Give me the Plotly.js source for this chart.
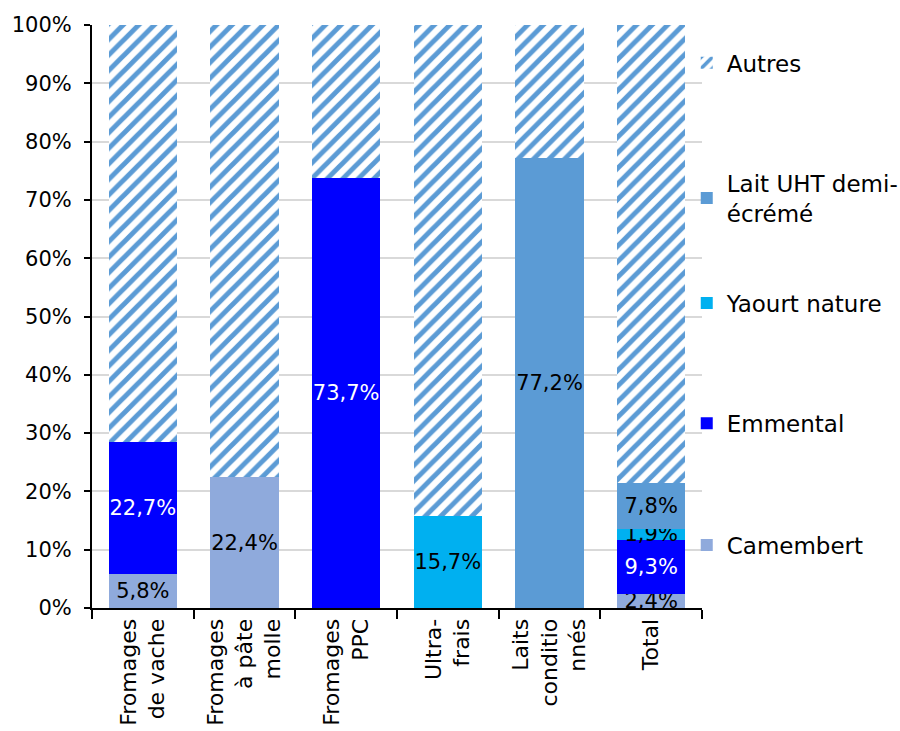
<!DOCTYPE html>
<html>
<head>
<meta charset="utf-8">
<script src="https://cdn.plot.ly/plotly-3.0.1.min.js"></script>
<style>html,body{margin:0;padding:0;background:#fff;}#chart{width:900px;height:731px;}</style>
</head>
<body>
<div id="chart"></div>
<script>
const categories = ["Fromages<br>de vache", "Fromages<br>à pâte<br>molle", "Fromages<br>PPC", "Ultra-<br>frais", "Laits<br>conditio<br>nnés", "Total"];
const camembert = [5.8, 22.4, null, null, null, 2.4];
const emmental = [22.7, null, 73.7, null, null, 9.3];
const yaourt = [null, null, null, 15.7, null, 1.9];
const laitUHT = [null, null, null, null, 77.2, 7.8];
const autres = [71.5, 77.6, 26.3, 84.3, 22.8, 78.6];

const seriesNames = ["Camembert", "Emmental", "Yaourt nature", "Lait UHT demi-<br>écrémé", "Autres"];
const seriesColors = ["#8FAADC", "#0000FF", "#00B0F0", "#5B9BD5", "#5B9BD5"];
const labelColors = ["#000000", "#FFFFFF", "#000000", "#000000", "#000000"];
const legendIds = ["legend5", "legend4", "legend3", "legend2", "legend"];
const legendY = [0.108, 0.317, 0.523, 0.703, 0.935];

const fmt = v => (v == null ? "" : v.toFixed(1).replace(".", ",") + "%");
const FONT = "'DejaVu Sans', Inter, sans-serif";

const allSeries = [camembert, emmental, yaourt, laitUHT];
const traces = allSeries.map((vals, i) => ({
  type: "bar",
  name: seriesNames[i],
  legend: legendIds[i],
  x: categories,
  y: vals.map(v => (v == null ? null : v / 100)),
  text: vals.map(fmt),
  textposition: "inside",
  insidetextanchor: "middle",
  textangle: 0,
  constraintext: "none",
  textfont: {family: FONT, size: 21, color: labelColors[i]},
  marker: {color: seriesColors[i], line: {width: 0}},
  hoverinfo: "skip"
}));
traces.push({
  type: "bar",
  name: seriesNames[4],
  legend: legendIds[4],
  x: categories,
  y: autres.map(v => v / 100),
  textposition: "none",
  marker: {
    color: "#FFFFFF",
    line: {width: 0},
    pattern: {shape: "/", fgcolor: "#5B9BD5", bgcolor: "#FFFFFF", size: 11, solidity: 0.45}
  },
  hoverinfo: "skip"
});

const layout = {
  width: 900,
  height: 731,
  barmode: "stack",
  bargap: 0.33,
  paper_bgcolor: "#FFFFFF",
  plot_bgcolor: "#FFFFFF",
  margin: {l: 92, r: 198, t: 25, b: 123, autoexpand: false},
  font: {family: FONT, size: 21, color: "#000000"},
  uniformtext: {mode: "show", minsize: 21},
  xaxis: {
    type: "category",
    tickangle: -90,
    ticks: "outside",
    tickson: "boundaries",
    ticklen: 9,
    tickcolor: "#000000",
    tickwidth: 2,
    showline: true,
    linecolor: "#000000",
    linewidth: 2,
    showgrid: false,
    tickfont: {family: FONT, size: 22, color: "#000000"}
  },
  yaxis: {
    range: [0, 1],
    dtick: 0.1,
    tickformat: ".0%",
    ticks: "outside",
    ticklen: 6,
    tickcolor: "#000000",
    tickwidth: 2,
    ticklabelstandoff: 8,
    showline: true,
    linecolor: "#000000",
    linewidth: 2,
    gridcolor: "#D9D9D9",
    gridwidth: 2,
    zeroline: false,
    tickfont: {family: FONT, size: 21, color: "#000000"}
  },
  showlegend: true
};

legendIds.forEach((id, i) => {
  layout[id] = {
    x: 0.975,
    xanchor: "left",
    y: legendY[i],
    yanchor: "middle",
    itemwidth: 30,
    font: {family: FONT, size: 23, color: "#000000"},
    bgcolor: "rgba(0,0,0,0)"
  };
});

Plotly.newPlot("chart", traces, layout, {displayModeBar: false, staticPlot: true});
</script>
</body>
</html>
